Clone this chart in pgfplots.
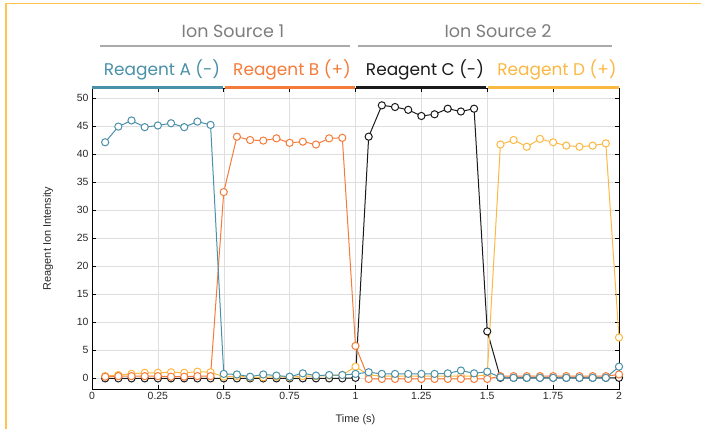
\documentclass[border=0pt]{standalone}
\usepackage{fontspec}
\setmainfont{Liberation Sans}
\newfontfamily\popp{Poppins}
\usepackage{pgfplots}
\pgfplotsset{compat=1.18}
\usepackage{pgfplotstable}

\definecolor{blueA}{RGB}{74,144,168}
\definecolor{orangeB}{RGB}{244,123,58}
\definecolor{blackC}{RGB}{26,26,26}
\definecolor{yellowD}{RGB}{251,184,67}
\definecolor{graytitle}{RGB}{125,125,125}
\definecolor{grayline}{RGB}{170,170,170}
\definecolor{framec}{RGB}{255,196,77}
\definecolor{gridc}{RGB}{222,222,222}
\definecolor{tickc}{RGB}{40,40,40}

\pgfplotstableread{
x y
0.05 42.1
0.10 44.9
0.15 46.0
0.20 44.8
0.25 45.1
0.30 45.5
0.35 44.8
0.40 45.8
0.45 45.2
0.50 0.7
0.55 0.6
0.60 0.2
0.65 0.6
0.70 0.4
0.75 0.2
0.80 0.8
0.85 0.4
0.90 0.5
0.95 0.5
1.00 0.7
1.05 1.0
1.10 0.7
1.15 0.7
1.20 0.7
1.25 0.7
1.30 0.7
1.35 0.8
1.40 1.3
1.45 0.8
1.50 1.1
1.55 0.1
1.60 0.0
1.65 0.0
1.70 0.0
1.75 0.0
1.80 0.0
1.85 0.0
1.90 0.0
1.95 0.0
2.00 2.0
}\dataA

\pgfplotstableread{
x y
0.05 0.2
0.10 0.3
0.15 0.3
0.20 0.3
0.25 0.3
0.30 0.2
0.35 0.2
0.40 0.3
0.45 0.3
0.50 33.2
0.55 43.1
0.60 42.5
0.65 42.4
0.70 42.8
0.75 42.0
0.80 42.2
0.85 41.7
0.90 42.8
0.95 42.9
1.00 5.7
1.05 -0.2
1.10 -0.2
1.15 -0.2
1.20 -0.2
1.25 -0.2
1.30 -0.2
1.35 -0.2
1.40 -0.2
1.45 -0.2
1.50 -0.2
1.55 0.3
1.60 0.3
1.65 0.3
1.70 0.3
1.75 0.3
1.80 0.3
1.85 0.3
1.90 0.3
1.95 0.3
2.00 0.6
}\dataB

\pgfplotstableread{
x y
0.05 -0.1
0.10 -0.1
0.15 -0.1
0.20 -0.1
0.25 -0.1
0.30 -0.1
0.35 -0.1
0.40 -0.1
0.45 -0.1
0.50 -0.1
0.55 -0.1
0.60 -0.1
0.65 -0.1
0.70 -0.1
0.75 -0.1
0.80 -0.1
0.85 -0.1
0.90 -0.1
0.95 -0.1
1.00 0.0
1.05 43.1
1.10 48.7
1.15 48.4
1.20 47.9
1.25 46.8
1.30 47.1
1.35 48.1
1.40 47.6
1.45 48.1
1.50 8.3
1.55 0.0
1.60 0.0
1.65 0.0
1.70 0.0
1.75 0.0
1.80 0.0
1.85 0.0
1.90 0.0
1.95 0.0
2.00 0.0
}\dataC

\pgfplotstableread{
x y
0.05 0.3
0.10 0.5
0.15 0.7
0.20 0.9
0.25 0.9
0.30 1.0
0.35 0.9
0.40 1.1
0.45 1.0
0.50 0.2
0.55 0.3
0.60 0.1
0.65 0.1
0.70 0.2
0.75 0.1
0.80 0.3
0.85 0.3
0.90 0.4
0.95 0.5
1.00 2.0
1.05 0.5
1.10 0.3
1.15 0.3
1.20 0.3
1.25 0.3
1.30 0.3
1.35 0.3
1.40 0.3
1.45 0.3
1.50 0.5
1.55 41.7
1.60 42.5
1.65 41.3
1.70 42.7
1.75 42.1
1.80 41.5
1.85 41.3
1.90 41.5
1.95 41.9
2.00 7.2
}\dataD

\begin{document}
\begin{tikzpicture}
\path[use as bounding box] (0,0) rectangle (701bp,-429bp);
\draw[framec, line width=1.5bp] (6bp,-429bp) -- (6bp,-3.5bp) -- (701bp,-3.5bp);

\begin{axis}[
  at={(92bp,-389bp)}, anchor=south west,
  scale only axis, width=527bp, height=301bp,
  xmin=0, xmax=2, ymin=-2, ymax=51.8,
  xtick={0,0.25,0.5,0.75,1,1.25,1.5,1.75,2},
  xticklabels={0,0.25,0.5,0.75,1,1.25,1.5,1.75,2},
  ytick={0,5,10,15,20,25,30,35,40,45,50},
  tick align=inside, major tick length=4bp,
  grid=major, grid style={line width=0.5bp, draw=gridc},
  axis line style={line width=0.8bp, black},
  tick style={black, line width=0.6bp},
  ticklabel style={font=\fontsize{10.5}{12}\selectfont, text=tickc},
  /pgf/number format/assume math mode=true,
  xlabel={Time (s)}, ylabel={Reagent Ion Intensity},
  label style={font=\fontsize{11}{13}\selectfont, text=tickc},
  xlabel style={at={(axis description cs:0.5,-0.103)}, anchor=center},
  ylabel style={at={(axis description cs:-0.0835,0.5)}, anchor=center},
  clip=false,
  every axis plot/.append style={line width=1bp, mark=*, mark size=3.6bp,
    mark options={fill=white, line width=1bp}},
]
\addplot[color=blackC] table {\dataC};
\addplot[color=yellowD] table {\dataD};
\addplot[color=orangeB] table {\dataB};
\addplot[color=blueA] table {\dataA};

\draw[blueA, line width=3bp] (axis cs:0,51.8) -- (axis cs:0.497,51.8);
\draw[orangeB, line width=3bp] (axis cs:0.503,51.8) -- (axis cs:0.997,51.8);
\draw[blackC, line width=3bp] (axis cs:1.003,51.8) -- (axis cs:1.497,51.8);
\draw[yellowD, line width=3bp] (axis cs:1.503,51.8) -- (axis cs:2,51.8);
\end{axis}

\node[font=\popp\fontsize{17.6}{20}\selectfont, text=graytitle, anchor=base] at (233bp,-37bp) {Ion Source 1};
\node[font=\popp\fontsize{17.6}{20}\selectfont, text=graytitle, anchor=base] at (498bp,-37bp) {Ion Source 2};
\draw[grayline, line width=1.5bp] (100bp,-46bp) -- (350bp,-46bp);
\draw[grayline, line width=1.5bp] (358bp,-46bp) -- (612bp,-46bp);

\node[font=\popp\fontsize{17}{19}\selectfont, text=blueA, anchor=base] at (162bp,-75bp) {Reagent A (-)};
\node[font=\popp\fontsize{17}{19}\selectfont, text=orangeB, anchor=base] at (292bp,-75bp) {Reagent B (+)};
\node[font=\popp\fontsize{17}{19}\selectfont, text=blackC, anchor=base] at (425bp,-75bp) {Reagent C (-)};
\node[font=\popp\fontsize{17}{19}\selectfont, text=yellowD, anchor=base] at (557bp,-75bp) {Reagent D (+)};
\end{tikzpicture}
\end{document}
